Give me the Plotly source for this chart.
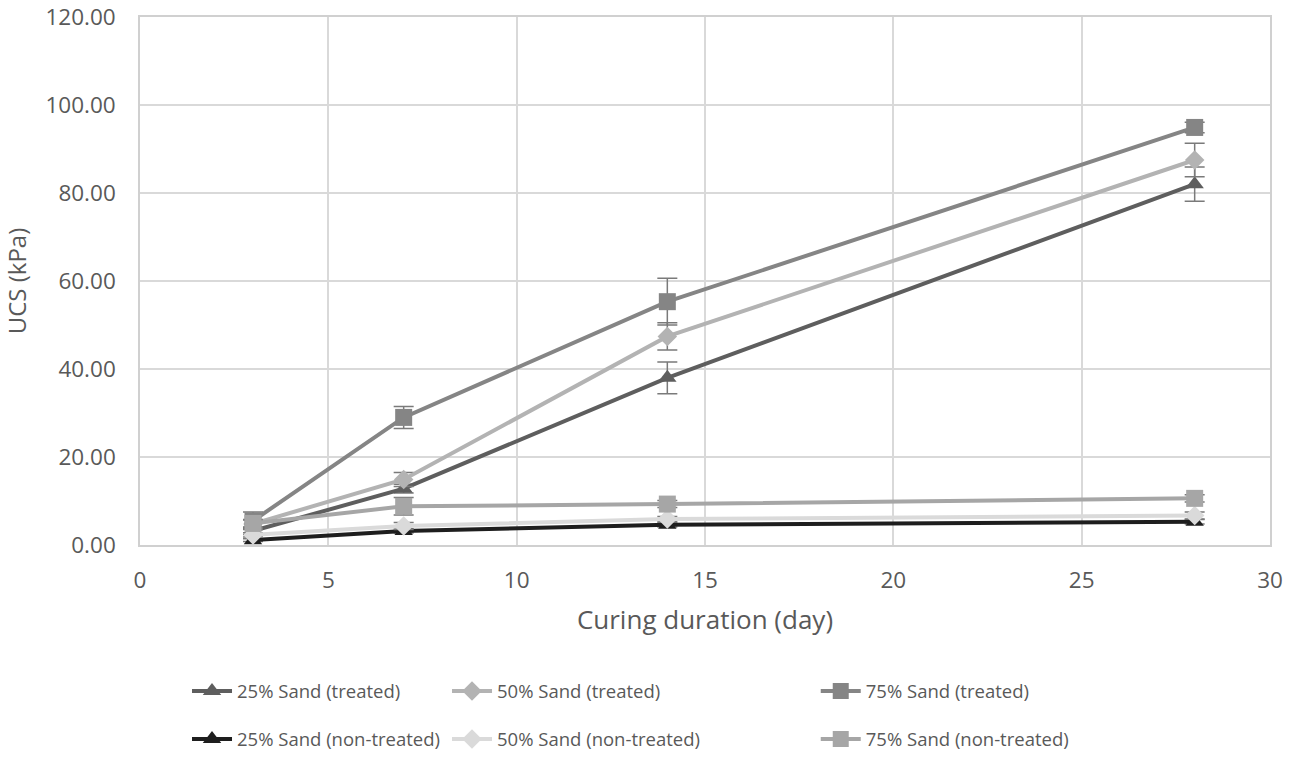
import plotly.graph_objects as go

days = [3, 7, 14, 28]

names = [
    "25% Sand (treated)", "50% Sand (treated)", "75% Sand (treated)",
    "25% Sand (non-treated)", "50% Sand (non-treated)", "75% Sand (non-treated)",
]

treated_25 = [3.2, 12.8, 38.0, 82.0]
treated_50 = [4.8, 14.9, 47.4, 87.5]
treated_75 = [5.5, 29.0, 55.3, 94.9]
nontreated_25 = [1.1, 3.2, 4.6, 5.3]
nontreated_50 = [2.3, 4.3, 5.9, 6.7]
nontreated_75 = [4.9, 8.8, 9.3, 10.6]

err_treated_25 = [0.8, 1.0, 3.6, 3.9]
err_treated_50 = [1.0, 1.6, 3.1, 3.8]
err_treated_75 = [2.0, 2.5, 5.3, 1.2]
err_nontreated_25 = [0.3, 0.5, 0.5, 0.5]
err_nontreated_50 = [0.5, 0.8, 0.6, 0.8]
err_nontreated_75 = [0.8, 2.0, 0.8, 0.8]

series = [treated_25, treated_50, treated_75, nontreated_25, nontreated_50, nontreated_75]
errors = [err_treated_25, err_treated_50, err_treated_75,
          err_nontreated_25, err_nontreated_50, err_nontreated_75]
colors = ["#5e5e5e", "#b3b3b3", "#858585", "#1e1e1e", "#dadada", "#a6a6a6"]
symbols = ["triangle-up", "diamond", "square", "triangle-up", "diamond", "square"]
msizes = [16, 15, 17, 16, 15, 17]
legend_ids = ["legend", "legend2", "legend3", "legend", "legend2", "legend3"]

FONT = "Open Sans, sans-serif"
TXT = "#595959"

fig = go.Figure()
for i in range(6):
    fig.add_trace(go.Scatter(
        x=days, y=series[i], name=names[i],
        mode="lines+markers",
        line=dict(color=colors[i], width=4),
        marker=dict(symbol=symbols[i], size=msizes[i], color=colors[i]),
        error_y=dict(type="data", array=errors[i], visible=True,
                     color="#7a7a7a", thickness=1.5, width=10),
        legend=legend_ids[i],
        legendgroup=names[i],
    ))

leg_common = dict(
    orientation="v", yanchor="top", xanchor="left",
    font=dict(family=FONT, size=18.5, color=TXT),
    bgcolor="rgba(0,0,0,0)", tracegroupgap=21, itemwidth=40,
)

fig.update_layout(
    width=1299, height=758,
    margin=dict(l=140, r=29, t=17, b=213, autoexpand=False),
    plot_bgcolor="white", paper_bgcolor="white",
    font=dict(family=FONT, size=22, color=TXT),
    xaxis=dict(
        range=[0, 30], dtick=5, tick0=0, automargin=False,
        showgrid=True, gridcolor="#d9d9d9", gridwidth=1.5,
        zeroline=False, showline=True, linecolor="#d0d0d0", linewidth=1.5,
        mirror=True, ticklabeloverflow="allow",
        tickfont=dict(family=FONT, size=22.5, color=TXT),
        ticklabelstandoff=14,
        title=dict(text="Curing duration (day)", font=dict(family=FONT, size=26, color=TXT),
                   standoff=17),
    ),
    yaxis=dict(
        range=[0, 120], dtick=20, tick0=0, tickformat=".2f", automargin=False,
        showgrid=True, gridcolor="#d9d9d9", gridwidth=1.5,
        zeroline=False, showline=True, linecolor="#d0d0d0", linewidth=1.5,
        mirror=True, ticklabeloverflow="allow",
        tickfont=dict(family=FONT, size=22.5, color=TXT),
        ticklabelstandoff=18,
        title=dict(text="UCS (kPa)", font=dict(family=FONT, size=24, color=TXT),
                   standoff=12),
    ),
    legend=dict(x=0.0416, y=-0.2415, **leg_common),
    legend2=dict(x=0.2717, y=-0.2415, **leg_common),
    legend3=dict(x=0.598, y=-0.2415, **leg_common),
)

fig.write_html("out.html", config={"displayModeBar": False},
               post_script="document.body.style.margin='0';")
